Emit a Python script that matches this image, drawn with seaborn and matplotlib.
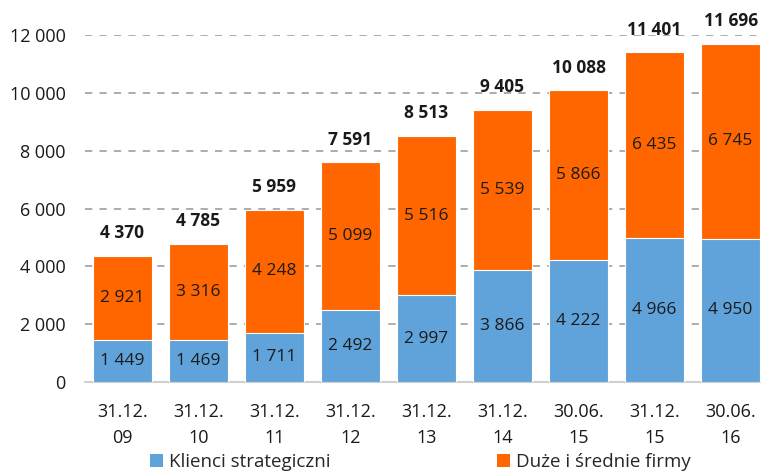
import matplotlib
matplotlib.use("Agg")
import matplotlib.pyplot as plt
import seaborn as sns
import pandas as pd
from matplotlib.patches import Patch

categories = ["31.12.\n09", "31.12.\n10", "31.12.\n11", "31.12.\n12", "31.12.\n13",
              "31.12.\n14", "30.06.\n15", "31.12.\n15", "30.06.\n16"]
strategic = [1449, 1469, 1711, 2492, 2997, 3866, 4222, 4966, 4950]
mid_large = [2921, 3316, 4248, 5099, 5516, 5539, 5866, 6435, 6745]
totals = [4370, 4785, 5959, 7591, 8513, 9405, 10088, 11401, 11696]
yticks = [0, 2000, 4000, 6000, 8000, 10000, 12000]

BLUE = "#5FA3DA"
ORANGE = "#FF6600"
FS = 12.5

def fmt(v):
    return f"{v:,}".replace(",", " ")

sns.set_theme(style="white")
plt.rcParams["font.family"] = ["Open Sans", "DejaVu Sans"]

df = pd.DataFrame({"cat": categories, "strategic": strategic,
                   "total_stack": [s + m for s, m in zip(strategic, mid_large)]})

fig = plt.figure(figsize=(7.61, 4.71), dpi=100)
ax = fig.add_axes([85 / 761, 89 / 471, 676 / 761, 347 / 471])

sns.barplot(data=df, x="cat", y="total_stack", color=ORANGE, saturation=1,
            width=0.78, edgecolor="white", linewidth=0.8, ax=ax, zorder=3)
sns.barplot(data=df, x="cat", y="strategic", color=BLUE, saturation=1,
            width=0.78, edgecolor="white", linewidth=0.8, ax=ax, zorder=4)

ax.set_ylim(0, 12000)
ax.set_xlim(-0.49, 8.4)
ax.set_yticks(yticks)
ax.set_yticklabels([fmt(v) for v in yticks], fontsize=13, color="#1a1a1a")
for lbl in ax.get_xticklabels():
    lbl.set_linespacing(1.6)
ax.tick_params(axis="x", labelsize=13, colors="#1a1a1a", length=0, pad=15)
ax.tick_params(axis="y", length=0, pad=14)
ax.set_xlabel("")
ax.set_ylabel("")
ax.yaxis.grid(True, linestyle=(0, (4, 4)), color="#A6A6A6", linewidth=1.3, zorder=0)
ax.set_axisbelow(True)
for s in ["left", "right", "top"]:
    ax.spines[s].set_visible(False)
ax.spines["bottom"].set_color("#D0D0D0")
ax.spines["bottom"].set_linewidth(1.5)

for i, (s, m, t) in enumerate(zip(strategic, mid_large, totals)):
    ax.text(i, s / 2, fmt(s), ha="center", va="center", fontsize=FS, color="#1a1a1a", zorder=5)
    ax.text(i, s + m / 2, fmt(m), ha="center", va="center", fontsize=FS, color="#1a1a1a", zorder=5)
    ax.text(i, t + 780, fmt(t), ha="center", va="center", fontsize=FS, fontweight="bold",
            color="#1a1a1a", zorder=5, clip_on=False)

handles = [Patch(facecolor=BLUE, edgecolor="none"), Patch(facecolor=ORANGE, edgecolor="none")]
fig.legend(handles, ["Klienci strategiczni", "Duże i średnie firmy"], loc="lower center",
           bbox_to_anchor=(0.552, -0.036), ncol=2, frameon=False, fontsize=13.5,
           handlelength=0.7, handleheight=0.7, handletextpad=0.3, columnspacing=8.9)

fig.savefig("out.png", dpi=100)
